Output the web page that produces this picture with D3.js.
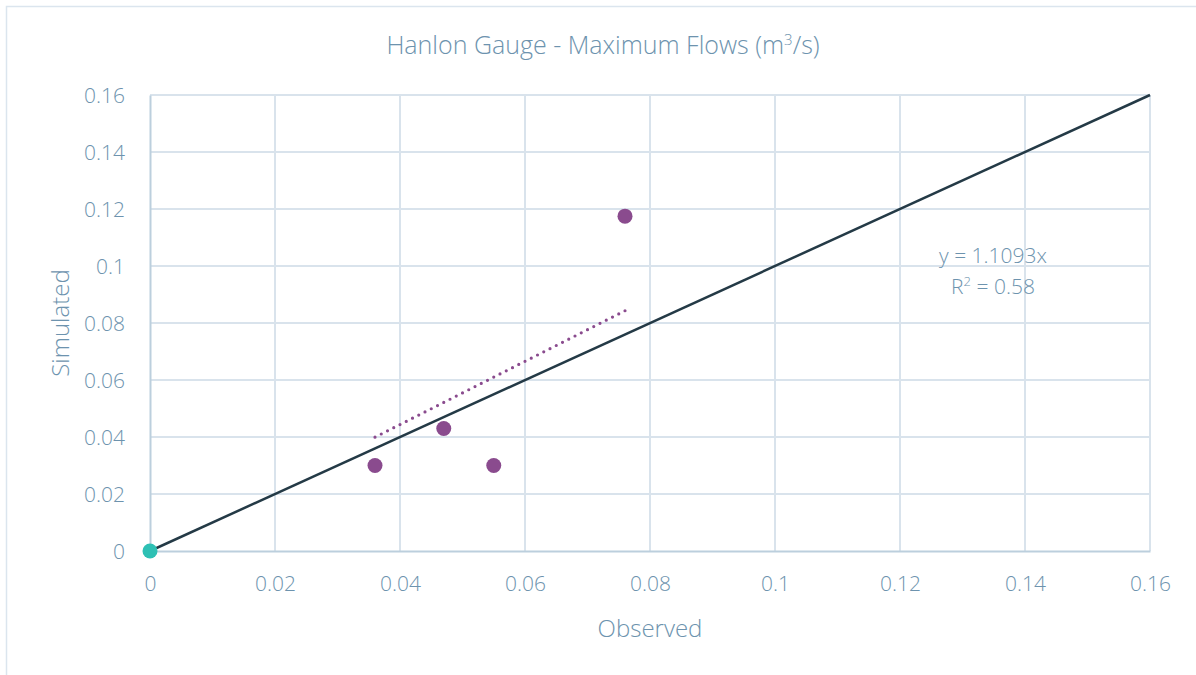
<!DOCTYPE html>
<html><head><meta charset="utf-8">
<script src="https://cdn.jsdelivr.net/npm/d3@7"></script>
<style>
html,body{margin:0;padding:0;background:#fff;}
text{font-family:"Open Sans","Segoe UI",sans-serif;font-weight:300;fill:#6d93ae;}
</style></head>
<body>
<svg id="chart" width="1196" height="675"></svg>
<script>
const observed = [0.036, 0.047, 0.055, 0.076];
const simulated = [0.030, 0.043, 0.030, 0.1175];
const originPoint = [0, 0];
const slope = 1.1093;
const r2Label = "0.58";
const xTicks = [0, 0.02, 0.04, 0.06, 0.08, 0.1, 0.12, 0.14, 0.16];
const yTicks = [0, 0.02, 0.04, 0.06, 0.08, 0.1, 0.12, 0.14, 0.16];
const oneToOne = [[0, 0], [0.16, 0.16]];

const svg = d3.select("#chart");
const W = 1196, H = 675;
const m = {left:150, right:46, top:95, bottom:124};
const x = d3.scaleLinear().domain([0, 0.16]).range([m.left, W - m.right]);
const y = d3.scaleLinear().domain([0, 0.16]).range([H - m.bottom, m.top]);

// outer border
svg.append("path").attr("d", `M6.5,${H}V6.5H${W}`).attr("fill","none")
  .attr("stroke","#dbe5ee").attr("stroke-width",1.5);

// gridlines
svg.append("g").selectAll("line").data(yTicks.filter(d=>d>0)).join("line")
  .attr("x1", x(0)).attr("x2", x(0.16)).attr("y1", d=>y(d)).attr("y2", d=>y(d))
  .attr("stroke","#d9e3ec").attr("stroke-width",2);
svg.append("g").selectAll("line").data(xTicks.filter(d=>d>0)).join("line")
  .attr("y1", y(0)).attr("y2", y(0.16)).attr("x1", d=>x(d)).attr("x2", d=>x(d))
  .attr("stroke","#d9e3ec").attr("stroke-width",2);

// axes
const fmt = d => d === 0 ? "0" : String(+d.toFixed(2));
const xAxis = svg.append("g").attr("transform", `translate(0,${y(0)})`)
  .call(d3.axisBottom(x).tickValues(xTicks).tickFormat(fmt).tickSize(0).tickPadding(25));
const yAxis = svg.append("g").attr("transform", `translate(${x(0)},0)`)
  .call(d3.axisLeft(y).tickValues(yTicks).tickFormat(fmt).tickSize(0).tickPadding(25));
[xAxis, yAxis].forEach(a => {
  a.select(".domain").attr("stroke","#bccfdd").attr("stroke-width",2);
  a.selectAll("text").style("font-size","21px").style("font-family",'"Open Sans",sans-serif').style("font-weight","300").attr("fill","#6d93ae");
});
yAxis.selectAll("text").attr("dy","0.35em");

// 1:1 line
svg.append("path").datum(oneToOne)
  .attr("d", d3.line().x(d=>x(d[0])).y(d=>y(d[1])))
  .attr("fill","none").attr("stroke","#243a46").attr("stroke-width",2.5);

// trendline (dotted, spacing adjusted so a dot lands on each end)
const xmin = d3.min(observed), xmax = d3.max(observed);
const tx1 = x(xmin), ty1 = y(slope*xmin), tx2 = x(xmax), ty2 = y(slope*xmax);
const tLen = Math.hypot(tx2 - tx1, ty2 - ty1);
const gap = tLen / Math.round(tLen / 7);
svg.append("line")
  .attr("x1", tx1).attr("y1", ty1).attr("x2", tx2).attr("y2", ty2)
  .attr("stroke","#8a4b8e").attr("stroke-width",3.2)
  .attr("stroke-dasharray", `0 ${gap}`).attr("stroke-linecap","round");

// points
svg.append("g").selectAll("circle").data(observed.map((o,i)=>[o, simulated[i]])).join("circle")
  .attr("cx", d=>x(d[0])).attr("cy", d=>y(d[1])).attr("r", 7.5).attr("fill","#8a4b8e");
svg.append("circle").attr("cx", x(originPoint[0])).attr("cy", y(originPoint[1])).attr("r", 7.5).attr("fill","#2ec0b4");

// equation
const eq = svg.append("text").attr("x", 993).attr("y", 263).attr("text-anchor","middle").style("font-size","21px");
eq.text("y = " + slope + "x");
const r2 = svg.append("text").attr("x", 993).attr("y", 294).attr("text-anchor","middle").style("font-size","21px");
r2.append("tspan").text("R");
r2.append("tspan").text("2").attr("dy","-8").style("font-size","13px");
r2.append("tspan").text(" = " + r2Label).attr("dy","8");

// title
const t = svg.append("text").attr("x", 603).attr("y", 54).attr("text-anchor","middle").style("font-size","25px");
t.append("tspan").text("Hanlon Gauge - Maximum Flows (m");
t.append("tspan").text("3").attr("dy","-9").style("font-size","15px");
t.append("tspan").text("/s)").attr("dy","9");

// axis titles
svg.append("text").attr("x", x(0.08)).attr("y", 637).attr("text-anchor","middle").style("font-size","24px").text("Observed");
svg.append("text").attr("transform", `translate(69,${(y(0)+y(0.16))/2}) rotate(-90)`)
  .attr("text-anchor","middle").style("font-size","24px").text("Simulated");
</script>
</body></html>
